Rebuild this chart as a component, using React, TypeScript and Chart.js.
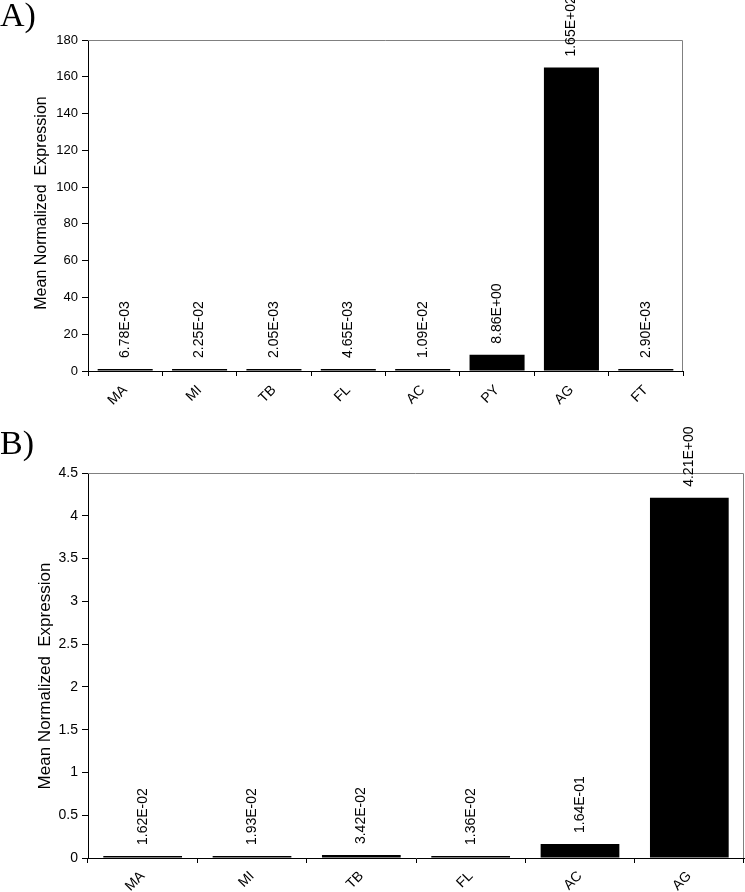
import React, { useEffect, useRef } from 'react';
import { Chart, registerables } from 'chart.js';

Chart.register(...registerables);

const FONT = '"Liberation Sans", Arial, Helvetica, sans-serif';

const categoriesA = ['MA', 'MI', 'TB', 'FL', 'AC', 'PY', 'AG', 'FT'];
const valuesA = [6.78e-3, 2.25e-2, 2.05e-3, 4.65e-3, 1.09e-2, 8.86, 165, 2.9e-3];
const yMaxA = 180;
const yStepA = 20;

const categoriesB = ['MA', 'MI', 'TB', 'FL', 'AC', 'AG'];
const valuesB = [1.62e-2, 1.93e-2, 3.42e-2, 1.36e-2, 1.64e-1, 4.21];
const yMaxB = 4.5;
const yStepB = 0.5;

const axisTitle = 'Mean Normalized  Expression';

function formatSci(v: number): string {
  const [m, e] = v.toExponential(2).split('e');
  const sign = e.startsWith('-') ? '-' : '+';
  const digits = e.replace('+', '').replace('-', '').padStart(2, '0');
  return `${m}E${sign}${digits}`;
}

type PanelOpts = {
  panel: string;
  labels: string[];
  values: number[];
  yMax: number;
  yStep: number;
  width: number;
  height: number;
  padTop: number;
  padRight: number;
  yWidth: number;
  xHeight: number;
  titleSize: number;
  titleX: number;
  titleY: number;
  tickSize: number;
  xTickSize: number;
  xTickPad: number;
  letterBaseline: number;
  barPct: number;
};

function Panel(p: PanelOpts) {
  const ref = useRef<HTMLCanvasElement | null>(null);
  useEffect(() => {
    if (!ref.current) return;
    const decor = {
      id: 'decor',
      afterDraw(chart: any) {
        const ctx = chart.ctx;
        const ca = chart.chartArea;
        ctx.save();
        // top and right frame
        ctx.strokeStyle = '#808080';
        ctx.lineWidth = 1;
        ctx.beginPath();
        ctx.moveTo(ca.left, Math.round(ca.top) + 0.5);
        ctx.lineTo(Math.round(ca.right) - 0.5, Math.round(ca.top) + 0.5);
        ctx.lineTo(Math.round(ca.right) - 0.5, ca.bottom);
        ctx.stroke();
        // value labels
        const meta = chart.getDatasetMeta(0);
        ctx.fillStyle = '#000';
        ctx.font = `14px ${FONT}`;
        ctx.textAlign = 'left';
        ctx.textBaseline = 'middle';
        meta.data.forEach((el: any, i: number) => {
          const v = chart.data.datasets[0].data[i] as number;
          ctx.save();
          ctx.translate(el.x, el.y - 11);
          ctx.rotate(-Math.PI / 2);
          ctx.fillText(formatSci(v), 0, 0);
          ctx.restore();
        });
        // y axis title
        ctx.save();
        ctx.font = `${p.titleSize}px ${FONT}`;
        ctx.textAlign = 'center';
        ctx.textBaseline = 'middle';
        ctx.translate(p.titleX, p.titleY);
        ctx.rotate(-Math.PI / 2);
        ctx.fillText(axisTitle, 0, 0);
        ctx.restore();
        // panel letter
        ctx.font = `34px "Liberation Serif", "Times New Roman", serif`;
        ctx.textAlign = 'left';
        ctx.textBaseline = 'alphabetic';
        ctx.fillText(p.panel, 0, p.letterBaseline);
        ctx.restore();
      },
    };
    const chart = new Chart(ref.current, {
      type: 'bar',
      data: {
        labels: p.labels,
        datasets: [
          {
            data: p.values,
            backgroundColor: '#000',
            borderWidth: 0,
            categoryPercentage: 1,
            barPercentage: p.barPct,
            minBarLength: 2,
          },
        ],
      },
      options: {
        responsive: false,
        maintainAspectRatio: false,
        animation: false,
        layout: { padding: { left: 0, top: p.padTop, right: p.padRight, bottom: 0 } },
        plugins: { legend: { display: false }, tooltip: { enabled: false }, title: { display: false } },
        scales: {
          x: {
            type: 'category',
            offset: true,
            grid: { offset: true, drawOnChartArea: false, drawTicks: true, tickLength: 5, color: '#000' },
            border: { display: true, color: '#000', width: 1 },
            ticks: {
              color: '#000',
              font: { family: FONT, size: p.xTickSize },
              maxRotation: 45,
              minRotation: 45,
              padding: p.xTickPad,
              autoSkip: false,
            },
            afterFit(scale: any) {
              scale.height = p.xHeight;
            },
          },
          y: {
            min: 0,
            max: p.yMax,
            grid: { drawOnChartArea: false, drawTicks: true, tickLength: 6, color: '#000' },
            border: { display: true, color: '#000', width: 1 },
            ticks: {
              stepSize: p.yStep,
              color: '#000',
              font: { family: FONT, size: p.tickSize },
              padding: 4,
              callback: (v: any) => String(Number(v)),
            },
            afterFit(scale: any) {
              scale.width = p.yWidth;
            },
          },
        },
      },
      plugins: [decor],
    } as any);
    return () => chart.destroy();
  }, []);
  return (
    <canvas
      ref={ref}
      width={p.width}
      height={p.height}
      style={{ display: 'block', width: p.width, height: p.height }}
    />
  );
}

export default function App() {
  return (
    <div style={{ position: 'absolute', left: 0, top: 0, width: 745, height: 892, background: '#fff' }}>
      <div style={{ position: 'absolute', left: 0, top: 0 }}>
        <Panel
          panel="A)"
          labels={categoriesA}
          values={valuesA}
          yMax={yMaxA}
          yStep={yStepA}
          width={745}
          height={430}
          padTop={40}
          padRight={62}
          yWidth={88}
          xHeight={59}
          titleSize={16}
          titleX={42}
          titleY={203}
          tickSize={13}
          xTickSize={14}
          xTickPad={6}
          letterBaseline={26}
          barPct={0.74}
        />
      </div>
      <div style={{ position: 'absolute', left: 0, top: 410 }}>
        <Panel
          panel="B)"
          labels={categoriesB}
          values={valuesB}
          yMax={yMaxB}
          yStep={yStepB}
          width={745}
          height={482}
          padTop={63}
          padRight={1}
          yWidth={88}
          xHeight={34}
          titleSize={17}
          titleX={45}
          titleY={266}
          tickSize={14}
          xTickSize={14}
          xTickPad={5}
          letterBaseline={44}
          barPct={0.72}
        />
      </div>
    </div>
  );
}
